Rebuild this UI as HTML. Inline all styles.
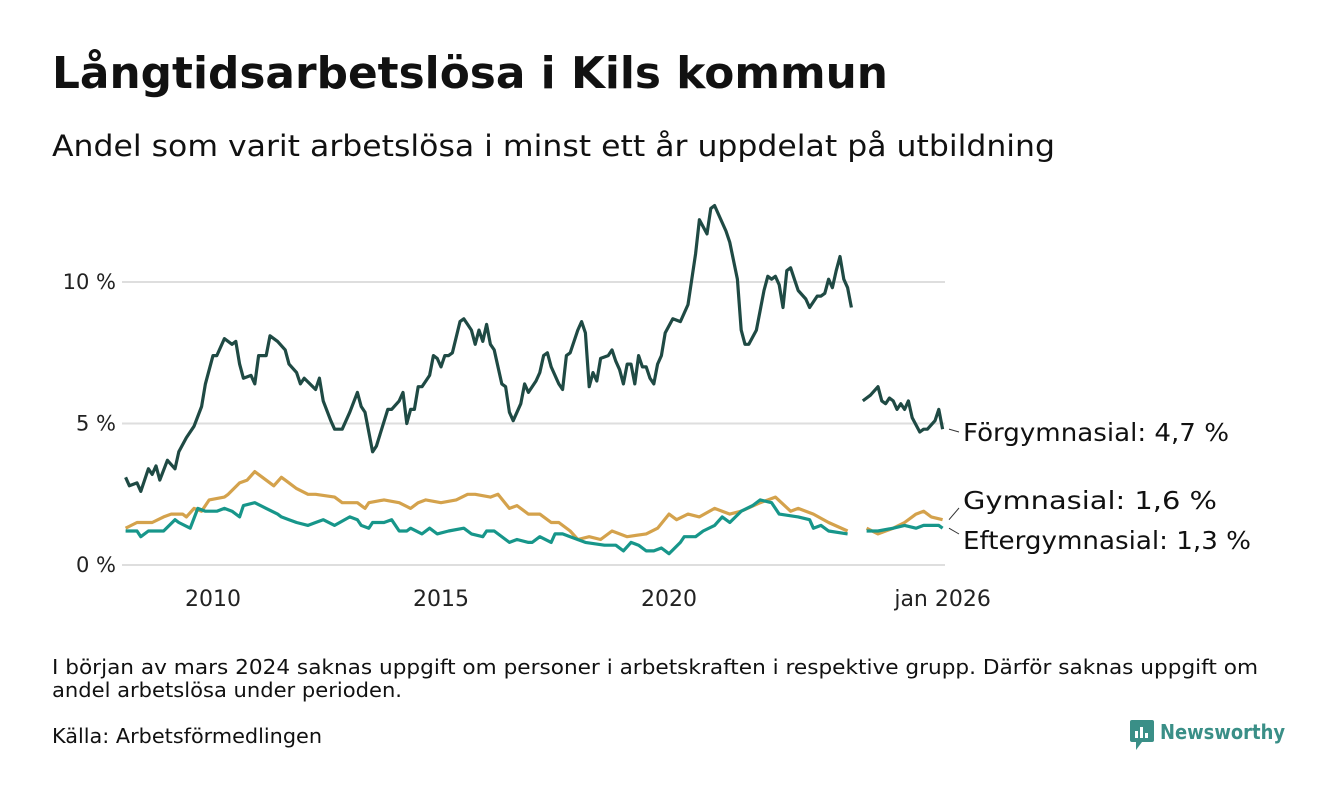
<!DOCTYPE html>
<html><head><meta charset="utf-8">
<style>
body{margin:0;background:#fff;width:1340px;height:780px;overflow:hidden;font-family:"Liberation Sans","DejaVu Sans",sans-serif;color:#111}
svg text{font-family:"DejaVu Sans","Liberation Sans",sans-serif}
</style></head><body>
<svg width="1340" height="780" viewBox="0 0 1340 780">
<text x="52" y="88" font-size="44" font-weight="bold" fill="#111" textLength="836" lengthAdjust="spacingAndGlyphs">Långtidsarbetslösa i Kils kommun</text>
<text x="52" y="156" font-size="29" fill="#111" textLength="1003" lengthAdjust="spacingAndGlyphs">Andel som varit arbetslösa i minst ett år uppdelat på utbildning</text>
<g id="grid"></g><g id="lines"></g><g id="labels"></g>
<text x="52" y="674" font-size="20" fill="#111" textLength="1206" lengthAdjust="spacingAndGlyphs">I början av mars 2024 saknas uppgift om personer i arbetskraften i respektive grupp. Därför saknas uppgift om</text>
<text x="52" y="697" font-size="20" fill="#111" textLength="350" lengthAdjust="spacingAndGlyphs">andel arbetslösa under perioden.</text>
<text x="52" y="743" font-size="20" fill="#111" textLength="270" lengthAdjust="spacingAndGlyphs">Källa: Arbetsförmedlingen</text>
<g>
<rect x="1130" y="720" width="24" height="22" rx="2" fill="#3a8f87"/>
<path d="M1136 742 l0 8 l6 -8z" fill="#3a8f87"/>
<rect x="1135" y="731" width="3" height="7" fill="#fff"/><rect x="1140" y="727" width="3" height="11" fill="#fff"/><rect x="1145" y="733" width="3" height="5" fill="#fff"/>
<text x="1160" y="739" font-size="20" font-weight="bold" fill="#3a8f87" textLength="125" lengthAdjust="spacingAndGlyphs">Newsworthy</text>
</g>
</svg>
<script>
// months since Jan 2008
const forgMonths=[1,2,4,5,7,8,9,10,12,14,15,17,19,21,22,24,25,27,29,30,31,32,34,35,36,38,39,41,43,44,46,47,48,51,52,53,55,56,58,60,62,63,64,66,67,70,71,73,74,75,76,77,78,79,81,82,83,84,85,86,87,89,90,91,92,93,94,95,96,97,98,100,101,102,103,105,106,107,109,110,111,112,113,115,116,117,118,120,121,122,123,124,125,126,128,129,130,131,132,133,134,135,136,137,138,139,140,141,142,143,145,147,148,149,150,151,152,154,155,156,157,159,160,162,163,164,165,167,168,169,170,171,172,173,174,175,176,177,178,180,181,183,184,185,186,187,188,189,190,191,192,193,195,197,199,200,201,202,203,204,205,206,207,208,210,211,212,214,215,216];
const forgValues=[3.1,2.8,2.9,2.6,3.4,3.2,3.5,3.0,3.7,3.4,4.0,4.5,4.9,5.6,6.4,7.4,7.4,8.0,7.8,7.9,7.1,6.6,6.7,6.4,7.4,7.4,8.1,7.9,7.6,7.1,6.8,6.4,6.6,6.2,6.6,5.8,5.1,4.8,4.8,5.4,6.1,5.6,5.4,4.0,4.2,5.5,5.5,5.8,6.1,5.0,5.5,5.5,6.3,6.3,6.7,7.4,7.3,7.0,7.4,7.4,7.5,8.6,8.7,8.5,8.3,7.8,8.3,7.9,8.5,7.8,7.6,6.4,6.3,5.4,5.1,5.7,6.4,6.1,6.5,6.8,7.4,7.5,7.0,6.4,6.2,7.4,7.5,8.3,8.6,8.2,6.3,6.8,6.5,7.3,7.4,7.6,7.2,6.9,6.4,7.1,7.1,6.4,7.4,7.0,7.0,6.6,6.4,7.1,7.4,8.2,8.7,8.6,8.9,9.2,10.1,11.0,12.2,11.7,12.6,12.7,12.4,11.8,11.4,10.1,8.3,7.8,7.8,8.3,9.0,9.7,10.2,10.1,10.2,9.9,9.1,10.4,10.5,10.1,9.7,9.4,9.1,9.5,9.5,9.6,10.1,9.8,10.4,10.9,10.1,9.8,9.1,null,5.8,6.0,6.3,5.8,5.7,5.9,5.8,5.5,5.7,5.5,5.8,5.2,4.7,4.8,4.8,5.1,5.5,4.8];
const gymMonths=[1,4,6,8,11,13,16,17,19,21,23,27,28,31,33,35,37,40,42,43,46,49,51,56,58,62,64,65,69,73,76,78,80,84,88,91,93,97,99,102,104,107,110,113,115,118,120,123,126,129,133,138,141,144,146,149,152,156,160,163,168,172,176,178,182,186,191,193,196,199,203,206,209,211,213,216];
const gymValues=[1.3,1.5,1.5,1.5,1.7,1.8,1.8,1.7,2.0,1.9,2.3,2.4,2.5,2.9,3.0,3.3,3.1,2.8,3.1,3.0,2.7,2.5,2.5,2.4,2.2,2.2,2.0,2.2,2.3,2.2,2.0,2.2,2.3,2.2,2.3,2.5,2.5,2.4,2.5,2.0,2.1,1.8,1.8,1.5,1.5,1.2,0.9,1.0,0.9,1.2,1.0,1.1,1.3,1.8,1.6,1.8,1.7,2.0,1.8,1.9,2.2,2.4,1.9,2.0,1.8,1.5,1.2,null,1.3,1.1,1.3,1.5,1.8,1.9,1.7,1.6];
const eftMonths=[1,4,5,7,11,14,15,18,20,22,25,27,29,31,32,35,38,41,42,44,46,49,51,53,56,60,62,63,65,66,69,71,73,75,76,79,81,83,86,90,92,95,96,98,102,104,107,108,110,113,114,116,118,122,127,130,132,134,136,138,140,142,144,147,148,151,153,156,158,160,163,166,168,171,173,178,181,182,184,186,191,193,196,199,203,206,209,211,215,216];
const eftValues=[1.2,1.2,1.0,1.2,1.2,1.6,1.5,1.3,2.0,1.9,1.9,2.0,1.9,1.7,2.1,2.2,2.0,1.8,1.7,1.6,1.5,1.4,1.5,1.6,1.4,1.7,1.6,1.4,1.3,1.5,1.5,1.6,1.2,1.2,1.3,1.1,1.3,1.1,1.2,1.3,1.1,1.0,1.2,1.2,0.8,0.9,0.8,0.8,1.0,0.8,1.1,1.1,1.0,0.8,0.7,0.7,0.5,0.8,0.7,0.5,0.5,0.6,0.4,0.8,1.0,1.0,1.2,1.4,1.7,1.5,1.9,2.1,2.3,2.2,1.8,1.7,1.6,1.3,1.4,1.2,1.1,null,1.2,1.2,1.3,1.4,1.3,1.4,1.4,1.3];
const yTicks=[0,5,10];
const yTickLabels=["0 %","5 %","10 %"];
const xTicks=[24,84,144,216];
const xTickLabels=["2010","2015","2020","jan 2026"];
const seriesNames=["Förgymnasial","Gymnasial","Eftergymnasial"];
const seriesLast=["4,7 %","1,6 %","1,3 %"];

const NS="http://www.w3.org/2000/svg";
const xS=m=>121.8+m*3.8;
const yS=v=>565-v*28.3;
function mk(tag,attrs,parent){const e=document.createElementNS(NS,tag);for(const k in attrs)e.setAttribute(k,attrs[k]);parent.appendChild(e);return e;}
const grid=document.getElementById('grid'),lines=document.getElementById('lines'),labels=document.getElementById('labels');
yTicks.forEach((t,i)=>{
  const l=mk('line',{x1:122,x2:945,y1:yS(t),y2:yS(t),stroke:'#dedede','stroke-width':2},grid);
  
  
  const tx=mk('text',{x:116,y:yS(t)+7,'font-size':21,'text-anchor':'end',fill:'#222'},grid);
  tx.textContent=yTickLabels[i];
  
  
});
xTicks.forEach((m,i)=>{
  const tx=mk('text',{x:xS(m),y:606,'font-size':22,'text-anchor':'middle',fill:'#222'},grid);
  tx.textContent=xTickLabels[i];
  
  
});
function path(ms,vs){let d='',pen=false;ms.forEach((m,i)=>{const v=vs[i];if(v===null||v===undefined){pen=false;return;}d+=(pen?'L':'M')+xS(m).toFixed(1)+' '+yS(v).toFixed(1);pen=true;});return d;}
const ser=[[gymMonths,gymValues,'#d4a24c','line-gymnasial'],[eftMonths,eftValues,'#17968a','line-eftergymnasial'],[forgMonths,forgValues,'#1f4a44','line-forgymnasial']];
ser.forEach(s=>{
  const p=mk('path',{d:path(s[0],s[1]),fill:'none',stroke:s[2],'stroke-width':3.2,'stroke-linejoin':'round'},lines);
  
  
});
const lastY=[yS(forgValues[forgValues.length-1]),yS(gymValues[gymValues.length-1]),yS(eftValues[eftValues.length-1])];
const labY=[432,500,540];
const labW=[266,254,288];
seriesNames.forEach((n,i)=>{
  const ld=mk('line',{x1:949,y1:lastY[i],x2:959,y2:labY[i]+(i===0?0:(i===1?8:-6)),stroke:'#333','stroke-width':1},labels);
  
  
  const tx=mk('text',{x:963,y:labY[i]+9,'font-size':25,fill:'#111',textLength:labW[i],lengthAdjust:'spacingAndGlyphs'},labels);
  tx.textContent=n+': '+seriesLast[i];
  
  
});
</script>
</body></html>
